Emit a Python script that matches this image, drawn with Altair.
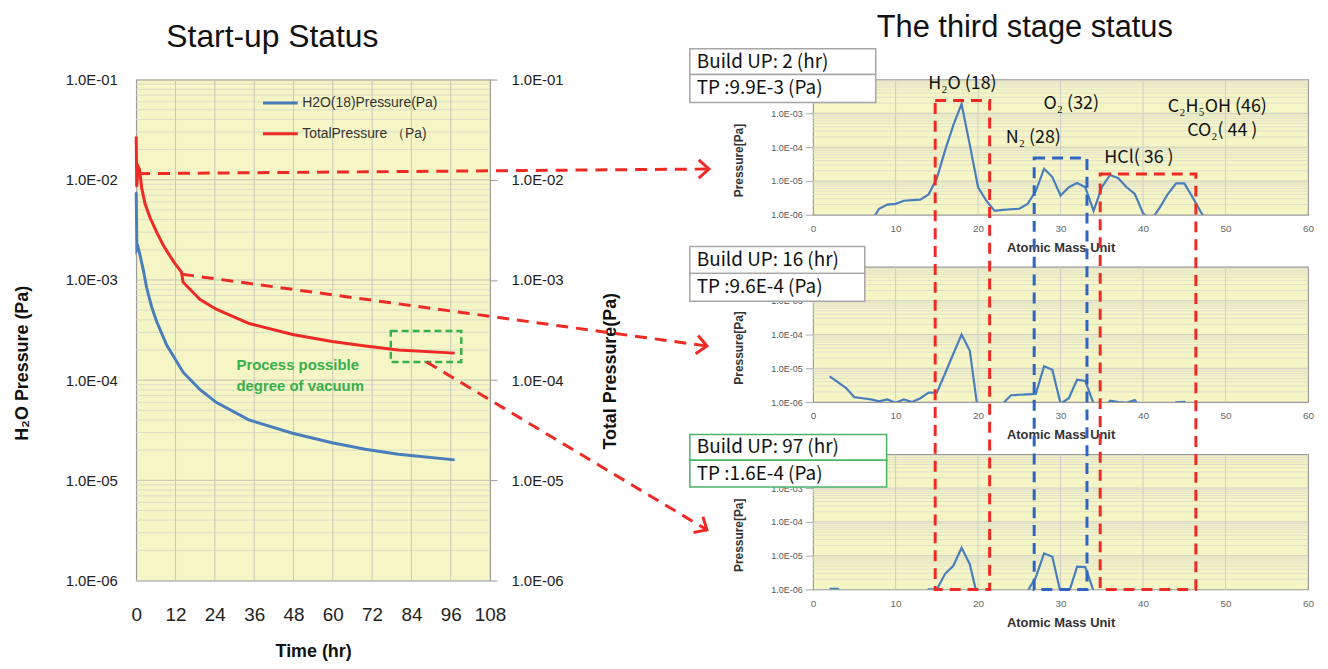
import altair as alt
import pandas as pd

# ---------------- colours / fonts ----------------
RED = "#ee2a24"
BLUE = "#4a7ebb"
DASH_BLUE = "#2f64c0"
GREEN = "#37b04a"
YELLOW = "#f5f5c6"
FONT = "Liberation Sans"
CJK = "Noto Sans CJK KR"

# ---------------- start-up status data ----------------
SERIES = ["H2O(18)Pressure(Pa)", "TotalPressure （Pa)"]
H2O_T = [0, 0.2, 0.6, 1.2, 2.2, 3.2, 4.7, 6.3, 9.3, 14.3, 19.4, 24.4, 34.5, 47.7, 59.8, 69.9, 80.0, 97.2]
H2O_P = [7.5e-3, 2.0e-3, 2.1e-3, 1.75e-3, 1.24e-3, 8.3e-4, 5.4e-4, 3.8e-4, 2.24e-4, 1.2e-4,
         8.1e-5, 6.0e-5, 4.0e-5, 2.95e-5, 2.37e-5, 2.04e-5, 1.82e-5, 1.6e-5]
TOTAL_T = [0, 0.15, 0.6, 1.0, 1.7, 2.7, 4.2, 6.3, 8.3, 11.3, 13.8, 14.3, 19.4, 24.4, 34.5, 47.7,
           59.8, 69.9, 80.0, 97.2]
TOTAL_P = [2.7e-2, 8.5e-3, 1.35e-2, 1.27e-2, 8.2e-3, 5.75e-3, 4.2e-3, 2.97e-3, 2.2e-3, 1.54e-3,
           1.2e-3, 9.5e-4, 6.4e-4, 5.1e-4, 3.67e-4, 2.85e-4, 2.43e-4, 2.19e-4, 2.0e-4, 1.86e-4]
TIME_TICKS = [0, 12, 24, 36, 48, 60, 72, 84, 96, 108]
LEFT_DECADES = [1e-6, 1e-5, 1e-4, 1e-3, 1e-2, 1e-1]
MINOR_MULT = [2, 3, 4, 5, 6, 7, 8, 9]

# ---------------- third stage spectra ----------------
SPEC1_M = list(range(7, 49))
SPEC1_P = [6e-7, 1.5e-6, 2.0e-6, 2.1e-6, 2.6e-6, 2.7e-6, 2.8e-6, 4.0e-6, 1.2e-5, 8.0e-5,
           4.5e-4, 1.9e-3, 1.15e-4, 6.5e-6, 2.6e-6, 1.3e-6, 1.4e-6, 1.45e-6, 1.5e-6, 2.1e-6,
           5.0e-6, 2.3e-5, 1.3e-5, 3.7e-6, 6.5e-6, 8.7e-6, 6.5e-6, 1.3e-6, 6.5e-6, 1.5e-5,
           1.2e-5, 6.5e-6, 4.1e-6, 1.1e-6, 7e-7, 1.6e-6, 4.1e-6, 8.5e-6, 8.5e-6, 3.3e-6,
           1.2e-6, 5e-7]
SPEC2_M = list(range(2, 47))
SPEC2_P = [5.8e-6, 3.9e-6, 2.6e-6, 1.4e-6, 1.3e-6, 1.2e-6, 1.05e-6, 1.2e-6, 9.5e-7, 1.2e-6,
           1.0e-6, 1.3e-6, 1.9e-6, 1.9e-6, 7e-6, 2.7e-5, 1.0e-4, 3.3e-5, 5e-7, 3e-7,
           3e-7, 9e-7, 1.6e-6, 1.65e-6, 1.7e-6, 1.75e-6, 1.15e-5, 9e-6, 9e-7, 1.3e-6,
           4.6e-6, 4.2e-6, 9e-7, 5e-7, 1.1e-6, 1.0e-6, 9.5e-7, 1.15e-6, 5e-7, 3e-7,
           3e-7, 5e-7, 9.8e-7, 1.02e-6, 5e-7]
SPEC3_M = list(range(2, 36))
SPEC3_P = [1.05e-6, 1.05e-6, 5e-7, 5e-7, 5e-7, 5e-7, 5e-7, 5e-7, 5e-7, 5e-7,
           5e-7, 5e-7, 1.0e-6, 1.0e-6, 2.9e-6, 5e-6, 1.7e-5, 5.6e-6, 5e-7, 5e-7,
           5e-7, 5e-7, 5e-7, 5e-7, 9e-7, 2.3e-6, 1.17e-5, 9.3e-6, 8e-7, 8e-7,
           4.7e-6, 4.6e-6, 9e-7, 5e-7]
BUILD_UP = ["2", "16", "97"]
TP_VALUES = ["9.9E-3", "9.6E-4", "1.6E-4"]
MASS_TICKS = [0, 10, 20, 30, 40, 50, 60]
SPEC_DECADES = [1e-6, 1e-5, 1e-4, 1e-3]

PEAK_LABELS = ["H₂O (18)", "O₂ (32)", "N₂ (28)", "HCl( 36 )", "C₂H₅OH (46)", "CO₂( 44 )"]
PEAK_LABEL_MASS = [18.1, 31.3, 26.7, 39.5, 49.0, 49.6]
PEAK_LABEL_P = [7.6e-3, 1.95e-3, 1.83e-4, 4.75e-5, 1.5e-3, 2.95e-4]
GROUP_MASS_LO = [14.8, 26.8, 34.8]
GROUP_MASS_HI = [21.4, 33.2, 46.4]

# arrows (start/end in the start-up chart's time / pressure units)
ARROW_T0 = [0.6, 14.0, 88.6]
ARROW_P0 = [1.15e-2, 1.14e-3, 1.52e-4]
ARROW_T1 = [174.8, 174.2, 174.2]
ARROW_P1 = [1.28e-2, 2.19e-4, 3.2e-6]
ARROW_ANGLE = [0, 8, 31]

LABEL_EXPR = "'1.0E-0' + toString(-round(log(datum.value) / LN10))"

# ================= left chart =================
XL = alt.Scale(domain=[0, 108], nice=False, zero=False)
YL = alt.Scale(type="log", domain=[1e-6, 1e-1], nice=False)

df_lines = pd.DataFrame({
    "t": H2O_T + TOTAL_T,
    "p": H2O_P + TOTAL_P,
    "series": [SERIES[0]] * len(H2O_T) + [SERIES[1]] * len(TOTAL_T),
    "order": list(range(len(H2O_T))) + list(range(len(TOTAL_T))),
})

minor_left = [m * d for d in LEFT_DECADES[:-1] for m in MINOR_MULT]
l_hminor = alt.Chart(pd.DataFrame({"p": minor_left})).mark_rule(
    color="#dcdcca", strokeWidth=1).encode(y=alt.Y("p:Q", scale=YL, axis=None))
l_hmajor = alt.Chart(pd.DataFrame({"p": LEFT_DECADES})).mark_rule(
    color="#c4c4b8", strokeWidth=1).encode(
    y=alt.Y("p:Q", scale=YL, axis=alt.Axis(
        orient="right", values=LEFT_DECADES, labelExpr=LABEL_EXPR, labelFontSize=15,
        labelFont=FONT, labelColor="#222", labelPadding=14, tickSize=7, tickColor="#9a9a9a",
        domain=False, grid=False, title="Total Pressure(Pa)", titleFont=FONT, titleFontSize=18,
        titleFontWeight="bold", titleColor="#111", titleAngle=270, titleX=121, titleY=293,
        titleAlign="center", titleBaseline="middle")))
l_vgrid = alt.Chart(pd.DataFrame({"t": TIME_TICKS[1:-1]})).mark_rule(
    color="#c8c8bd", strokeWidth=1).encode(x=alt.X("t:Q", scale=XL, axis=None))

l_lines = alt.Chart(df_lines).mark_line(strokeWidth=3).encode(
    x=alt.X("t:Q", scale=XL, axis=alt.Axis(
        orient="bottom", values=TIME_TICKS, labelFontSize=19, labelFont=FONT, labelColor="#222",
        labelPadding=25, tickSize=0, domain=False, grid=False, labelFlush=False,
        title="Time (hr)", titleFont=FONT, titleFontSize=18, titleFontWeight="bold",
        titleColor="#111", titleY=71, titleBaseline="middle")),
    y=alt.Y("p:Q", scale=YL, axis=alt.Axis(
        orient="left", values=LEFT_DECADES, labelExpr=LABEL_EXPR, labelFontSize=15, labelFont=FONT,
        labelColor="#222", labelPadding=19, tickSize=0, domain=False, grid=False,
        title="H₂O Pressure (Pa)", titleFont=FONT, titleFontSize=18, titleFontWeight="bold",
        titleColor="#111", titleAngle=270, titleX=-114, titleY=285, titleAlign="center",
        titleBaseline="middle")),
    color=alt.Color("series:N", scale=alt.Scale(domain=SERIES, range=[BLUE, RED]),
                    legend=alt.Legend(orient="none", legendX=126, legendY=8, title=None,
                                      symbolType="stroke", symbolSize=1225, symbolStrokeWidth=3,
                                      labelFontSize=14, labelFont=FONT, labelColor="#333",
                                      padding=0, rowPadding=0, clipHeight=31, labelOffset=3)),
    order=alt.Order("order:Q"),
)

l_gbox = alt.Chart(pd.DataFrame({"t0": [77.7], "t1": [99.2], "p0": [1.52e-4], "p1": [3.09e-4]})).mark_rect(
    fill="transparent", stroke=GREEN, strokeWidth=2.5, strokeDash=[7, 4]).encode(
    x=alt.X("t0:Q", scale=XL, axis=None), x2="t1:Q",
    y=alt.Y("p0:Q", scale=YL, axis=None), y2="p1:Q")
l_gtext = alt.Chart(pd.DataFrame({"t": [30.6, 30.6], "p": [1.42e-4, 8.8e-5],
                                  "txt": ["Process possible", "degree of vacuum"]})).mark_text(
    align="left", baseline="middle", fontSize=15, fontWeight="bold", font=FONT, color=GREEN).encode(
    x=alt.X("t:Q", scale=XL, axis=None), y=alt.Y("p:Q", scale=YL, axis=None), text="txt:N")

arrow_layers = []
for i in range(3):
    d = pd.DataFrame({"t0": [ARROW_T0[i]], "p0": [ARROW_P0[i]], "t1": [ARROW_T1[i]], "p1": [ARROW_P1[i]]})
    arrow_layers.append(alt.Chart(d).mark_rule(color=RED, strokeWidth=3, strokeDash=[12, 8]).encode(
        x=alt.X("t0:Q", scale=XL, axis=None), x2="t1:Q",
        y=alt.Y("p0:Q", scale=YL, axis=None), y2="p1:Q"))
    arrow_layers.append(alt.Chart(d).mark_point(
        shape="M-1,-0.9L0,0L-1,0.9", filled=False, stroke=RED, strokeWidth=3, size=420,
        angle=ARROW_ANGLE[i], opacity=1).encode(
        x=alt.X("t1:Q", scale=XL, axis=None), y=alt.Y("p1:Q", scale=YL, axis=None)))

l_title = alt.Chart(pd.DataFrame({"txt": ["Start-up Status"]})).mark_text(
    fontSize=32, font=FONT, color="#111", align="center", baseline="middle").encode(
    x=alt.value(137), y=alt.value(-43), text="txt:N")

left = alt.layer(l_hminor, l_hmajor, l_vgrid, l_lines, l_gbox, l_gtext, *arrow_layers, l_title
                 ).resolve_axis(x="independent", y="independent").properties(width=356, height=504)

# ================= right spectra =================
XS = alt.Scale(domain=[0, 60], nice=False, zero=False)
YS = alt.Scale(type="log", domain=[1e-6, 1e-2], nice=False)
spec_minor = [m * d for d in SPEC_DECADES for m in MINOR_MULT]

# info-box geometry per panel: (top, middle, bottom, right edge) in panel pixels
BOX_GEOM = [(-31, -5, 23, 63), (-20.5, 6.5, 34.5, 52), (-20, 6, 33, 74)]
BOX_STROKE = ["#a6a6a6", "#a6a6a6", "#48b468"]
GROUP_TOP = [-356, -298, -282]
GROUP_COLOR = [RED, DASH_BLUE, RED]


def spectrum(mass, vals, k):
    hminor = alt.Chart(pd.DataFrame({"p": spec_minor})).mark_rule(
        color="#e0e0cc", strokeWidth=1).encode(y=alt.Y("p:Q", scale=YS, axis=None))
    hmajor = alt.Chart(pd.DataFrame({"p": SPEC_DECADES[1:]})).mark_rule(
        color="#cdcdc2", strokeWidth=1).encode(y=alt.Y("p:Q", scale=YS, axis=None))
    vgrid = alt.Chart(pd.DataFrame({"m": MASS_TICKS[1:-1]})).mark_rule(
        color="#cfcfc8", strokeWidth=1).encode(x=alt.X("m:Q", scale=XS, axis=None))
    line = alt.Chart(pd.DataFrame({"mass": mass, "p": vals})).mark_line(
        color=BLUE, strokeWidth=2.2, clip=True).encode(
        x=alt.X("mass:Q", scale=XS, axis=alt.Axis(
            orient="bottom", values=MASS_TICKS, labelFontSize=10, labelFont=FONT, labelColor="#666",
            labelPadding=9, tickSize=0, domain=False, grid=False, labelFlush=False,
            title="Atomic Mass Unit", titleFont=FONT, titleFontSize=13, titleFontWeight="bold",
            titleColor="#333", titleY=33, titleBaseline="middle")),
        y=alt.Y("p:Q", scale=YS, axis=alt.Axis(
            orient="left", values=SPEC_DECADES, labelExpr=LABEL_EXPR, labelFontSize=9, labelFont=FONT,
            labelColor="#555", labelPadding=3, tickSize=8, tickColor="#aaaaaa", domain=False,
            grid=False, title="Pressure[Pa]", titleFont=FONT, titleFontSize=12,
            titleFontWeight="bold", titleColor="#333", titleAngle=270, titleX=-75, titleY=81,
            titleAlign="center", titleBaseline="middle")))
    layers = [hminor, hmajor, vgrid, line]

    if k == 0:
        layers.append(alt.Chart(pd.DataFrame({"m": PEAK_LABEL_MASS, "p": PEAK_LABEL_P,
                                              "txt": PEAK_LABELS})).mark_text(
            fontSize=18, font=CJK, color="#111", align="center", baseline="middle").encode(
            x=alt.X("m:Q", scale=XS, axis=None), y=alt.Y("p:Q", scale=YS, axis=None), text="txt:N"))
        layers.append(alt.Chart(pd.DataFrame({"txt": ["The third stage status"]})).mark_text(
            fontSize=31, font=FONT, color="#111", align="center", baseline="middle").encode(
            x=alt.value(213), y=alt.value(-52), text="txt:N"))

    top, mid, bot, right = BOX_GEOM[k]
    one = pd.DataFrame({"a": [0]})
    for (y0, y1) in [(top, mid), (mid, bot)]:
        layers.append(alt.Chart(one).mark_rect(fill="white", stroke=BOX_STROKE[k], strokeWidth=1.5).encode(
            x=alt.value(-124), x2=alt.value(right), y=alt.value(y0), y2=alt.value(y1)))
    rows = pd.DataFrame({"txt": [f"Build UP: {BUILD_UP[k]} (hr)", f"TP :{TP_VALUES[k]} (Pa)"]})
    layers.append(alt.Chart(rows.iloc[[0]]).mark_text(
        fontSize=19, font=CJK, color="#111", align="left", baseline="middle").encode(
        x=alt.value(-117), y=alt.value((top + mid) / 2), text="txt:N"))
    layers.append(alt.Chart(rows.iloc[[1]]).mark_text(
        fontSize=19, font=CJK, color="#111", align="left", baseline="middle").encode(
        x=alt.value(-117), y=alt.value((mid + bot) / 2), text="txt:N"))

    if k == 2:
        for g in range(3):
            layers.append(alt.Chart(pd.DataFrame({"lo": [GROUP_MASS_LO[g]], "hi": [GROUP_MASS_HI[g]]})).mark_rect(
                fill="transparent", stroke=GROUP_COLOR[g], strokeWidth=3, strokeDash=[11, 7]).encode(
                x=alt.X("lo:Q", scale=XS, axis=None), x2="hi:Q",
                y=alt.value(GROUP_TOP[g]), y2=alt.value(136)))

    return alt.layer(*layers).resolve_axis(x="independent", y="independent").properties(
        width=498, height=136)


right = alt.vconcat(spectrum(SPEC1_M, SPEC1_P, 0), spectrum(SPEC2_M, SPEC2_P, 1),
                    spectrum(SPEC3_M, SPEC3_P, 2), spacing=52.5, bounds="flush")

chart = alt.hconcat(left, right, spacing=325, bounds="flush").properties(
    padding={"left": 5, "top": 1, "right": 5, "bottom": 0}
).configure_view(fill=YELLOW, stroke="#9a9a9a", strokeWidth=1.2)

chart.save("out.html", embed_options={"renderer": "svg", "actions": False})
